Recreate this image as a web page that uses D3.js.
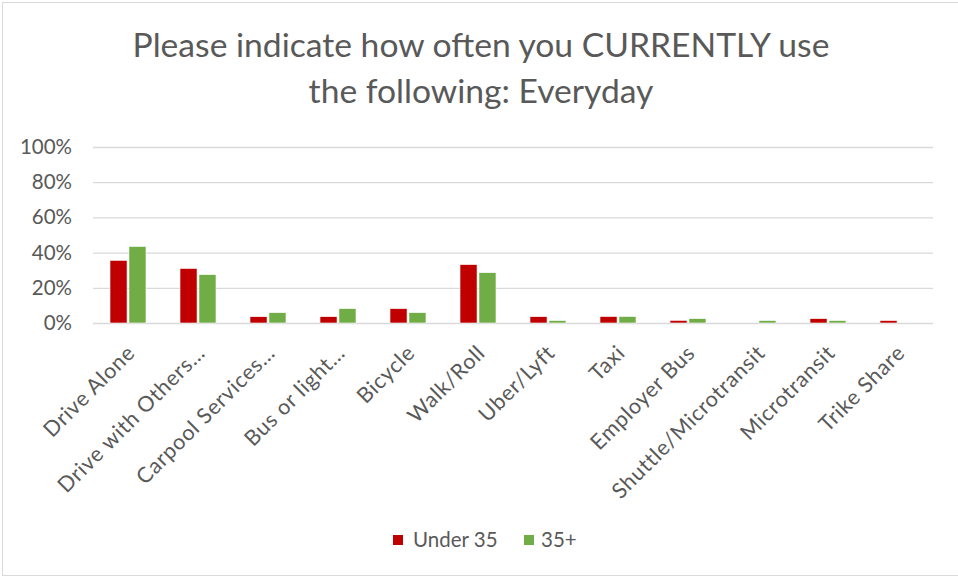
<!DOCTYPE html>
<html>
<head>
<meta charset="utf-8">
<script src="https://cdn.jsdelivr.net/npm/d3@7"></script>
<style>
  html, body { margin: 0; padding: 0; background: #fff; }
  svg { display: block; }
  text { font-family: Lato, "Open Sans", sans-serif; fill: #595959; }
</style>
</head>
<body>
<svg id="chart" width="958" height="577"></svg>
<script>
const titleLines = ["Please indicate how often you CURRENTLY use", "the following: Everyday"];
const categories = ["Drive Alone", "Drive with Others…", "Carpool Services…", "Bus or light…", "Bicycle", "Walk/Roll", "Uber/Lyft", "Taxi", "Employer Bus", "Shuttle/Microtransit", "Microtransit", "Trike Share"];
const seriesNames = ["Under 35", "35+"];
const under35 = [35.6, 31, 3.6, 3.6, 8.2, 33.2, 3.6, 3.7, 1.5, 0, 2.5, 1.4];
const over35 = [43.5, 27.5, 5.9, 8.2, 5.9, 28.6, 1.4, 3.7, 2.5, 1.4, 1.4, 0];
const yTicks = [0, 20, 40, 60, 80, 100];
const colors = ["#C00000", "#70AD47"];

const svg = d3.select("#chart");
const W = 958, H = 577;
const margin = {left: 93, right: 25, top: 147, bottom: 254};
const labelSize = 20.5;

// outer border
svg.append("rect").attr("x", 2.5).attr("y", 2.5).attr("width", W + 5).attr("height", 573)
  .attr("fill", "none").attr("stroke", "#D9D9D9").attr("stroke-width", 1);

// title
const title = svg.append("g");
titleLines.forEach((t, i) => {
  title.append("text").attr("x", 481).attr("y", 57 + i * 46)
    .attr("text-anchor", "middle").style("font-size", "29px").text(t);
});
const t0 = title.select("text").node();
const w0 = t0.getComputedTextLength();
const fs = 29 * 697 / w0;
title.selectAll("text").style("font-size", fs + "px");

const x0 = d3.scaleBand().domain(categories).range([margin.left, W - margin.right]).paddingInner(0).paddingOuter(0);
const x1 = d3.scaleBand().domain(seriesNames).range([0, 36]).paddingInner(0.1);
const y = d3.scaleLinear().domain([0, 100]).range([H - margin.bottom, margin.top]);

// gridlines + y labels
const yAxis = d3.axisLeft(y).tickValues(yTicks).tickFormat(d => d + "%").tickSize(-(W - margin.right - margin.left)).tickPadding(21);
const ga = svg.append("g").attr("transform", `translate(${margin.left},0)`).call(yAxis);
ga.select(".domain").remove();
ga.selectAll(".tick line").attr("stroke", "#D9D9D9").attr("stroke-width", 1.3);
ga.selectAll(".tick text").style("font-size", labelSize + "px").style("font-family", "Lato, sans-serif").style("fill", "#595959");

// bars
const data = categories.map((c, i) => ({c, vals: [under35[i], over35[i]]}));
const groups = svg.append("g").selectAll("g").data(data).join("g")
  .attr("transform", d => `translate(${x0(d.c) + x0.bandwidth() / 2 - 18},0)`);
groups.selectAll("rect").data(d => d.vals.map((v, j) => ({v, j}))).join("rect")
  .attr("x", d => x1(seriesNames[d.j]))
  .attr("width", x1.bandwidth())
  .attr("y", d => y(d.v))
  .attr("height", d => y(0) - y(d.v))
  .attr("fill", d => colors[d.j])
  .attr("stroke", "#fff").attr("stroke-width", 0.6);

// category labels
const xl = svg.append("g");
categories.forEach(c => {
  const cx = x0(c) + x0.bandwidth() / 2;
  xl.append("text")
    .attr("transform", `translate(${cx + 3},${349}) rotate(-45)`)
    .attr("text-anchor", "end")
    .attr("dy", "0.35em")
    .style("font-size", "21.5px")
    .style("letter-spacing", "0.7px")
    .text(c);
});

// legend
const legendItems = [{name: seriesNames[0], x: 393, tx: 413}, {name: seriesNames[1], x: 524, tx: 541}];
legendItems.forEach((l, i) => {
  svg.append("rect").attr("x", l.x).attr("y", 535).attr("width", 10).attr("height", 10).attr("fill", colors[i]);
  svg.append("text").attr("x", l.tx).attr("y", 540).attr("dy", "0.35em").style("font-size", labelSize + "px").text(l.name);
});
</script>
</body>
</html>
